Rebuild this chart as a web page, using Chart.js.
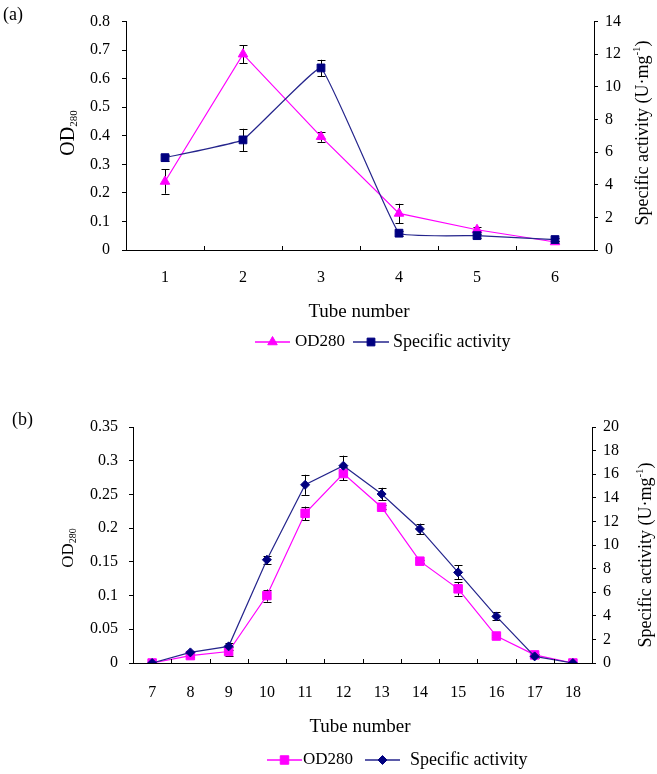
<!DOCTYPE html>
<html><head><meta charset="utf-8">
<script src="https://cdn.jsdelivr.net/npm/chart.js@4/dist/chart.umd.min.js"></script>
<style>
html,body{margin:0;padding:0;background:#fff;width:657px;height:774px;overflow:hidden}
.wrap{position:absolute;left:0;width:657px}
#wa{top:0;height:360px}
#wb{top:360px;height:414px}
canvas{display:block}
</style></head><body>
<div class="wrap" id="wa"><canvas id="ca" width="657" height="360"></canvas></div>
<div class="wrap" id="wb"><canvas id="cb" width="657" height="414"></canvas></div>
<script>
// ---------- Panel (a) data ----------
const tubesA = ['1', '2', '3', '4', '5', '6'];
const od280A = [0.24, 0.686, 0.397, 0.128, 0.071, 0.028];
const od280ErrA = [0.043, 0.031, 0.018, 0.034, 0.009, 0.004];
const activityA = [5.66, 6.75, 11.16, 1.03, 0.88, 0.64];
const activityErrA = [0.18, 0.68, 0.5, 0.15, 0.12, 0.1];
const odTicksA = ['0', '0.1', '0.2', '0.3', '0.4', '0.5', '0.6', '0.7', '0.8'];
const actTicksA = ['0', '2', '4', '6', '8', '10', '12', '14'];

// ---------- Panel (b) data ----------
const tubesB = ['7', '8', '9', '10', '11', '12', '13', '14', '15', '16', '17', '18'];
const od280B = [0, 0.011, 0.017, 0.100, 0.222, 0.281, 0.231, 0.151, 0.110, 0.040, 0.012, 0];
const od280ErrB = [0, 0.002, 0.006, 0.009, 0.01, 0.01, 0.003, 0.002, 0.01, 0.002, 0.002, 0];
const activityB = [0, 0.9, 1.41, 8.75, 15.1, 16.72, 14.32, 11.36, 7.68, 3.95, 0.56, 0];
const activityErrB = [0, 0.15, 0.3, 0.34, 0.85, 0.85, 0.53, 0.45, 0.6, 0.34, 0.1, 0];
const odTicksB = ['0', '0.05', '0.1', '0.15', '0.2', '0.25', '0.3', '0.35'];
const actTicksB = ['0', '2', '4', '6', '8', '10', '12', '14', '16', '18', '20'];

const FAM = '"Liberation Serif", "Times New Roman", serif';
const PINK = '#ff00ff';
const NAVY = '#000080';
const NAVY_LINE = '#25258c';

function drawRich(ctx, parts, cx, cy, rot) {
  ctx.save();
  ctx.translate(cx, cy);
  ctx.rotate(rot);
  let total = 0;
  parts.forEach(p => { ctx.font = p.size + 'px ' + FAM; p.w = ctx.measureText(p.text).width; total += p.w; });
  let x = -total / 2;
  ctx.fillStyle = '#000';
  ctx.textBaseline = 'alphabetic';
  ctx.textAlign = 'left';
  const base = parts[0].size * 0.34;
  parts.forEach(p => { ctx.font = p.size + 'px ' + FAM; ctx.fillText(p.text, x, base + (p.dy || 0)); x += p.w; });
  ctx.restore();
}

function drawMarker(ctx, style, x, y, r, color) {
  ctx.save();
  ctx.fillStyle = color; ctx.strokeStyle = color; ctx.lineWidth = 1;
  ctx.beginPath();
  if (style === 'triangle') {
    ctx.moveTo(x, y - r); ctx.lineTo(x + r * 0.866, y + r * 0.5); ctx.lineTo(x - r * 0.866, y + r * 0.5); ctx.closePath();
  } else if (style === 'rect') {
    const s = r * 0.7071; ctx.rect(x - s, y - s, 2 * s, 2 * s);
  } else {
    ctx.moveTo(x, y - r); ctx.lineTo(x + r, y); ctx.lineTo(x, y + r); ctx.lineTo(x - r, y); ctx.closePath();
  }
  ctx.fill(); ctx.stroke();
  ctx.restore();
}

const errorBars = {
  id: 'errorBars',
  beforeDatasetsDraw(chart, args, opts) {
    const ctx = chart.ctx;
    ctx.save();
    ctx.strokeStyle = '#000'; ctx.lineWidth = 1;
    chart.data.datasets.forEach((ds, i) => {
      const errs = opts.errors[i];
      const meta = chart.getDatasetMeta(i);
      const ys = chart.scales[ds.yAxisID];
      meta.data.forEach((pt, j) => {
        const e = errs[j];
        if (!e) return;
        const v = ds.data[j];
        const x = Math.round(pt.x) + 0.5;
        const y1 = ys.getPixelForValue(v + e), y2 = ys.getPixelForValue(v - e);
        ctx.beginPath();
        ctx.moveTo(x, y1); ctx.lineTo(x, y2);
        ctx.moveTo(x - 4, Math.round(y1) + 0.5); ctx.lineTo(x + 4, Math.round(y1) + 0.5);
        ctx.moveTo(x - 4, Math.round(y2) + 0.5); ctx.lineTo(x + 4, Math.round(y2) + 0.5);
        ctx.stroke();
      });
    });
    ctx.restore();
  }
};

const deco = {
  id: 'deco',
  afterDraw(chart, args, o) {
    const ctx = chart.ctx;
    const ca = chart.chartArea;
    const xs = chart.scales.x;
    // inner tick marks at category boundaries
    ctx.save();
    ctx.strokeStyle = '#000'; ctx.lineWidth = 1;
    const n = chart.data.labels.length;
    ctx.beginPath();
    for (let i = 1; i < n; i++) {
      const bx = Math.round((xs.getPixelForValue(i - 1) + xs.getPixelForValue(i)) / 2) + 0.5;
      ctx.moveTo(bx, ca.bottom); ctx.lineTo(bx, ca.bottom - 4);
    }
    ctx.stroke();
    // panel label
    ctx.fillStyle = '#000';
    ctx.font = '18px ' + FAM;
    ctx.textBaseline = 'middle'; ctx.textAlign = 'left';
    ctx.fillText(o.panel, o.panelX, o.panelY);
    // x title
    ctx.font = '19px ' + FAM; ctx.textAlign = 'center';
    ctx.fillText('Tube number', o.xTitleX, o.xTitleY);
    ctx.restore();
    // y titles
    drawRich(ctx, [{ text: 'OD', size: o.odSize }, { text: '280', size: o.subSize, dy: 3 }], o.lTitleX, o.lTitleY, -Math.PI / 2);
    drawRich(ctx, [{ text: 'Specific activity (U\u00b7mg', size: 18 }, { text: '-1', size: 11, dy: -8 }, { text: ')', size: 18 }], o.rTitleX, o.rTitleY, -Math.PI / 2);
    // legend
    const L = o.legend;
    ctx.save();
    ctx.lineWidth = 1.5;
    ctx.strokeStyle = PINK;
    ctx.beginPath(); ctx.moveTo(L.l1[0], L.y); ctx.lineTo(L.l1[1], L.y); ctx.stroke();
    drawMarker(ctx, L.m1, (L.l1[0] + L.l1[1]) / 2, L.y, L.r1, PINK);
    ctx.strokeStyle = NAVY_LINE;
    ctx.beginPath(); ctx.moveTo(L.l2[0], L.y); ctx.lineTo(L.l2[1], L.y); ctx.stroke();
    drawMarker(ctx, L.m2, (L.l2[0] + L.l2[1]) / 2, L.y, L.r2, NAVY);
    ctx.fillStyle = '#000'; ctx.textBaseline = 'middle'; ctx.textAlign = 'left';
    ctx.font = '17px ' + FAM;
    ctx.fillText(chart.data.datasets[0].label, L.t1, L.y);
    ctx.font = '18px ' + FAM;
    ctx.fillText(chart.data.datasets[1].label, L.t2, L.y);
    ctx.restore();
  }
};

function makeChart(id, cfg) {
  const tickFont = { family: FAM, size: 16 };
  return new Chart(document.getElementById(id), {
    type: 'line',
    data: {
      labels: cfg.labels,
      datasets: [
        { label: 'OD280', data: cfg.od, yAxisID: 'y', borderColor: PINK, backgroundColor: PINK, pointBorderColor: PINK,
          pointStyle: cfg.odStyle, pointRadius: cfg.odRadius, pointBorderWidth: 1, borderWidth: 1.2, tension: 0, order: 1 },
        { label: 'Specific activity', data: cfg.act, yAxisID: 'y1', borderColor: NAVY_LINE, backgroundColor: NAVY, pointBorderColor: NAVY,
          pointStyle: cfg.actStyle, pointRadius: cfg.actRadius, pointBorderWidth: 1, borderWidth: 1.2, tension: cfg.actTension, order: 0 }
      ]
    },
    options: {
      responsive: false, animation: false, devicePixelRatio: 1,
      layout: { padding: { top: cfg.padTop, left: 0, right: 0, bottom: 0 } },
      plugins: {
        legend: { display: false }, tooltip: { enabled: false },
        errorBars: { errors: [cfg.odErr, cfg.actErr] },
        deco: cfg.deco
      },
      scales: {
        x: {
          type: 'category', offset: true,
          grid: { display: false, drawTicks: false },
          border: { display: true, color: '#000', width: 1 },
          ticks: { font: tickFont, color: '#000', padding: cfg.xPad, maxRotation: 0, autoSkip: false },
          afterFit: s => { s.height = cfg.xHeight; }
        },
        y: {
          position: 'left', min: 0, max: cfg.odMax,
          ticks: { stepSize: cfg.odStep, callback: (v, i) => cfg.odTicks[i], padding: cfg.lPad, font: tickFont, color: '#000' },
          grid: { display: true, drawOnChartArea: false, drawTicks: true, tickLength: 4, color: '#000' },
          border: { display: true, color: '#000', width: 1 },
          afterFit: s => { s.width = cfg.lWidth; }
        },
        y1: {
          position: 'right', min: 0, max: cfg.actMax,
          ticks: { stepSize: 2, callback: (v, i) => cfg.actTicks[i], padding: 7, font: tickFont, color: '#000' },
          grid: { display: true, drawOnChartArea: false, drawTicks: true, tickLength: 4, color: '#000' },
          border: { display: true, color: '#000', width: 1 },
          afterFit: s => { s.width = cfg.rWidth; }
        }
      }
    },
    plugins: [errorBars, deco]
  });
}

makeChart('ca', {
  labels: tubesA, od: od280A, odErr: od280ErrA, act: activityA, actErr: activityErrA,
  odTicks: odTicksA, actTicks: actTicksA, odMax: 0.8, odStep: 0.1, actMax: 14,
  odStyle: 'triangle', odRadius: 5.5, actStyle: 'rect', actRadius: 5.5, actTension: 0.08,
  padTop: 16, xHeight: 110, lWidth: 126, rWidth: 63, xPad: 18, lPad: 12,
  deco: {
    panel: '(a)', panelX: 3, panelY: 15, xTitleX: 359, xTitleY: 312,
    odSize: 20, subSize: 11, lTitleX: 67, lTitleY: 133, rTitleX: 642, rTitleY: 133,
    legend: { y: 342, l1: [255, 290], m1: 'triangle', r1: 5.5, t1: 295, l2: [353, 389], m2: 'rect', r2: 5.5, t2: 393 }
  }
});

makeChart('cb', {
  labels: tubesB, od: od280B, odErr: od280ErrB, act: activityB, actErr: activityErrB,
  odTicks: odTicksB, actTicks: actTicksB, odMax: 0.35, odStep: 0.05, actMax: 20,
  odStyle: 'rect', odRadius: 6, actStyle: 'rectRot', actRadius: 4.5, actTension: 0,
  padTop: 67, xHeight: 111, lWidth: 133, rWidth: 65, xPad: 20, lPad: 11,
  deco: {
    panel: '(b)', panelX: 12, panelY: 60, xTitleX: 360, xTitleY: 367,
    odSize: 17, subSize: 10, lTitleX: 67, lTitleY: 188, rTitleX: 645, rTitleY: 195,
    legend: { y: 400, l1: [267, 302], m1: 'rect', r1: 6, t1: 303, l2: [365, 400], m2: 'diamond', r2: 4.5, t2: 410 }
  }
});
</script>
</body></html>
